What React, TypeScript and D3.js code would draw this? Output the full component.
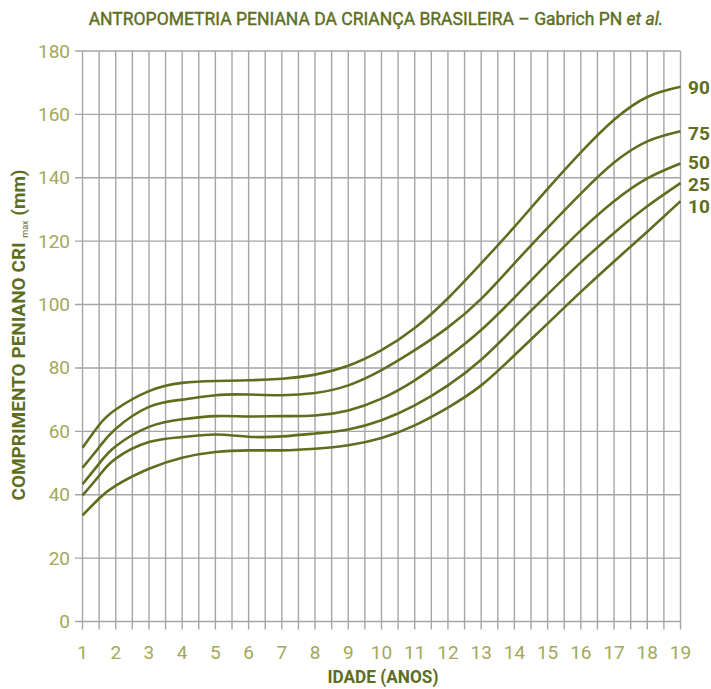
import React from "react";
import * as d3 from "d3";

const ages = [1, 1.5, 2, 3, 4, 5, 6, 7, 8, 9, 10, 11, 12, 13, 14, 15, 16, 17, 18, 19];
const p90 = [54.8, 62.0, 66.9, 72.7, 75.3, 75.9, 76.1, 76.6, 77.9, 80.7, 85.6, 92.6, 102, 113, 124.5, 136.5, 148, 158.3, 165.5, 168.7];
const p75 = [48.5, 55.0, 60.8, 67.7, 70.0, 71.4, 71.6, 71.4, 72.1, 74.5, 79.3, 85.6, 92.8, 101.8, 113, 124.2, 135, 144.8, 151.5, 154.7];
const p50 = [43.3, 49.8, 55.3, 61.4, 63.8, 64.8, 64.7, 64.8, 65.0, 66.6, 70.3, 76.1, 83.5, 92, 102.2, 113, 123.4, 132.6, 139.8, 144.5];
const p25 = [39.8, 46.0, 51.4, 56.6, 58.2, 59.0, 58.3, 58.4, 59.3, 60.6, 63.5, 68.2, 74.5, 82.6, 92.8, 103.2, 113.3, 122.6, 131, 138.3];
const p10 = [33.5, 38.8, 42.9, 48.2, 51.7, 53.5, 54.0, 54.0, 54.5, 55.6, 57.9, 61.9, 67.5, 74.5, 84, 94, 104, 113.6, 123, 132.6];
const seriesNames = ["90", "75", "50", "25", "10"];
const seriesValues = [p90, p75, p50, p25, p10];
const xTicks = d3.range(1, 20);
const xGrid = d3.range(1, 19.01, 0.5);
const yTicks = d3.range(0, 181, 20);

const W = 711, H = 689;
const left = 82.5, right = 680.5, top = 51, bottom = 621.5;
const FONT = "Roboto, 'Liberation Sans', sans-serif";
const DARK = "#5e6e1e";
const LIGHT = "#a3a85a";
const GRID = "#a5a5a8";

export default function App() {
  const x = d3.scaleLinear().domain([1, 19]).range([left, right]);
  const y = d3.scaleLinear().domain([0, 180]).range([bottom, top]);
  const line = d3.line<[number, number]>().x(d => x(d[0])).y(d => y(d[1])).curve(d3.curveNatural);
  const labelYs = [87, 133, 162, 184, 206];
  return (
    <svg width={W} height={H} style={{ position: "absolute", left: 0, top: 0, background: "#fff" }}>
      <text x={376} y={25} textAnchor="middle" fontFamily={FONT} fontSize={17.5} fill={DARK} stroke={DARK} strokeWidth={0.4}>
        ANTROPOMETRIA PENIANA DA CRIANÇA BRASILEIRA – Gabrich PN <tspan fontStyle="italic">et al.</tspan>
      </text>
      {yTicks.map(t => (
        <g key={"y" + t}>
          <line x1={75} x2={right} y1={y(t)} y2={y(t)} stroke={GRID} strokeWidth={1.4} />
          <text x={70} y={y(t) + 6.5} textAnchor="end" fontFamily={FONT} fontSize={19} fill={LIGHT}>{t}</text>
        </g>
      ))}
      {xGrid.map(v => (
        <line key={"xg" + v} x1={x(v)} x2={x(v)} y1={top} y2={bottom + 8} stroke={GRID} strokeWidth={1.4} />
      ))}
      {xTicks.map(t => (
        <text key={"xt" + t} x={x(t)} y={659} textAnchor="middle" fontFamily={FONT} fontSize={19} fill={LIGHT}>{t}</text>
      ))}
      {seriesValues.map((vals, i) => (
        <path key={"s" + i} d={line(ages.map((a, j) => [a, vals[j]] as [number, number])) || ""} fill="none" stroke={DARK} strokeWidth={2.6} />
      ))}
      {seriesNames.map((n, i) => (
        <text key={"l" + i} x={688} y={labelYs[i] + 7} fontFamily={FONT} fontWeight="bold" fontSize={19} fill={DARK}>{n}</text>
      ))}
      <text x={383} y={683} textAnchor="middle" fontFamily={FONT} fontWeight="bold" fontSize={18} fill={DARK} textLength={111} lengthAdjust="spacingAndGlyphs">IDADE (ANOS)</text>
      <text transform={`translate(25, 335) rotate(-90)`} textAnchor="middle" fontFamily={FONT} fontWeight="bold" fontSize={19} fill={DARK}>
        COMPRIMENTO PENIANO CRI <tspan fontSize={9} fontWeight="normal" dy={3}>max</tspan><tspan dy={-3}> (mm)</tspan>
      </text>
    </svg>
  );
}
